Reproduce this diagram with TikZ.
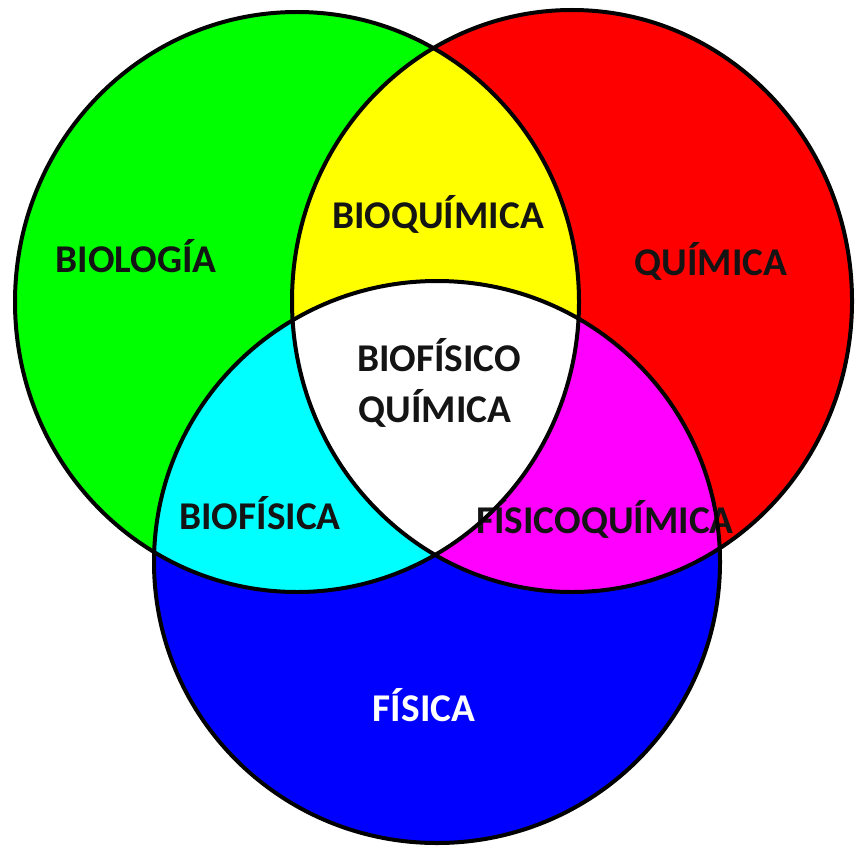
\documentclass[tikz,border=0pt]{standalone}
\usepackage{fontspec}
\setmainfont{Carlito}
\definecolor{cgreen}{RGB}{0,255,0}
\definecolor{cred}{RGB}{255,0,0}
\definecolor{cblue}{RGB}{0,0,255}
\definecolor{cyellow}{RGB}{255,255,0}
\definecolor{ccyan}{RGB}{0,255,255}
\definecolor{cmagenta}{RGB}{255,0,255}
\definecolor{ctext}{RGB}{20,20,20}
\begin{document}
\begin{tikzpicture}[x=0.75pt,y=-0.75pt,
  lbl/.style={font=\fontsize{29.5}{35}\selectfont\bfseries, text=ctext, inner sep=0pt, text height=18.6pt, text depth=0pt},
  outline/.style={draw=black, line width=3pt}]
\useasboundingbox (0,0) rectangle (855,845);
\coordinate (cg) at (297,302);
\coordinate (cr) at (572,301);
\coordinate (cb) at (437,562);
% base circles
\fill[cgreen] (cg) ellipse [x radius=211.5pt, y radius=217.5pt];
\fill[cred] (cr) ellipse [x radius=210pt, y radius=218.25pt];
\begin{scope}
  \clip (cg) ellipse [x radius=211.5pt, y radius=217.5pt];
  \fill[cyellow] (cr) ellipse [x radius=210pt, y radius=218.25pt];
\end{scope}
\fill[cblue] (cb) ellipse [x radius=212.25pt, y radius=210.75pt];
\begin{scope}
  \clip (cb) ellipse [x radius=212.25pt, y radius=210.75pt];
  \fill[ccyan] (cg) ellipse [x radius=211.5pt, y radius=217.5pt];
  \fill[cmagenta] (cr) ellipse [x radius=210pt, y radius=218.25pt];
  \begin{scope}
    \clip (cg) ellipse [x radius=211.5pt, y radius=217.5pt];
    \fill[white] (cr) ellipse [x radius=210pt, y radius=218.25pt];
  \end{scope}
\end{scope}
% labels
\node[lbl] (bio) at (136,260) {BIOLOGÍA};
\node[lbl] (qui) at (711,263) {QUÍMICA};
\node[lbl] (bioq) at (438,216) {BIOQUÍMICA};
\node[lbl] (bfq1) at (439,359) {BIOFÍSICO};
\node[lbl] (bfq2) at (435,410) {QUÍMICA};
\node[lbl] (biof) at (260,517) {BIOFÍSICA};
\node[lbl] (fq) at (605,521) {FÍSICOQUÍMICA};
\node[lbl, text=white] (fis) at (424,709) {FÍSICA};
% outlines
\draw[outline] (cg) ellipse [x radius=211.5pt, y radius=217.5pt];
\draw[outline] (cr) ellipse [x radius=210pt, y radius=218.25pt];
\draw[outline] (cb) ellipse [x radius=212.25pt, y radius=210.75pt];
\end{tikzpicture}
\end{document}
